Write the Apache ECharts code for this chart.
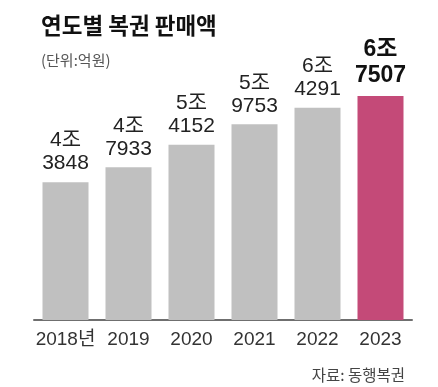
<!DOCTYPE html>
<html>
<head>
<meta charset="utf-8">
<script src="https://cdn.jsdelivr.net/npm/echarts@6/dist/echarts.min.js"></script>
<style>
html,body{margin:0;padding:0;background:#fff;}
#chart{width:438px;height:387px;}
</style>
</head>
<body>
<div id="chart"></div>
<script>
// Data (unit: 억원)
const categories = ['2018년', '2019', '2020', '2021', '2022', '2023'];
const sales = [43848, 47933, 54152, 59753, 64291, 67507];
const highlightIndex = 5;

const title = '연도별 복권 판매액';
const unitNote = '(단위:억원)';
const sourceNote = '자료: 동행복권';

const NUM_FONT = '"Liberation Sans", "Noto Sans CJK KR", sans-serif';
const KR_FONT = '"Noto Sans CJK KR", sans-serif';

function splitLabel(v) {
  const jo = Math.floor(v / 10000);
  const rest = v % 10000;
  return jo + '조\n' + rest;
}

const chart = echarts.init(document.getElementById('chart'), null, {renderer: 'canvas'});

chart.setOption({
  animation: false,
  backgroundColor: '#ffffff',
  title: [
    {
      text: title, left: 36, top: 9,
      textStyle: {fontFamily: KR_FONT, fontSize: 22.5, fontWeight: 'bold', color: '#111111'}
    },
    {
      text: unitNote, left: 36, top: 48,
      textStyle: {fontFamily: KR_FONT, fontSize: 15, fontWeight: 'normal', color: '#555555'}
    },
    {
      text: sourceNote, right: 28, top: 362,
      textStyle: {fontFamily: KR_FONT, fontSize: 15.5, fontWeight: 'normal', color: '#444444'}
    }
  ],
  grid: {left: 34, right: 26, top: 96, bottom: 67},
  xAxis: {
    type: 'category',
    data: categories,
    axisLine: {show: true, lineStyle: {color: '#6f6f6f', width: 2}},
    axisTick: {show: false},
    axisLabel: {
      interval: 0, margin: 10, fontSize: 19, color: '#333333', fontFamily: NUM_FONT
    }
  },
  yAxis: {
    type: 'value', min: 6000, max: 'dataMax',
    show: false, splitLine: {show: false}
  },
  series: [{
    type: 'bar',
    barWidth: 46,
    data: sales.map((v, i) => ({
      value: v,
      itemStyle: {color: i === highlightIndex ? '#c44a78' : '#c0c0c0'},
      label: i === highlightIndex ? {
        fontSize: 23, fontWeight: 'bold', lineHeight: 26, color: '#111111'
      } : {}
    })),
    label: {
      show: true,
      position: 'top',
      distance: 7,
      formatter: p => splitLabel(p.value),
      fontFamily: NUM_FONT,
      fontSize: 21,
      lineHeight: 23,
      color: '#222222',
      align: 'center'
    }
  }]
});
</script>
</body>
</html>
